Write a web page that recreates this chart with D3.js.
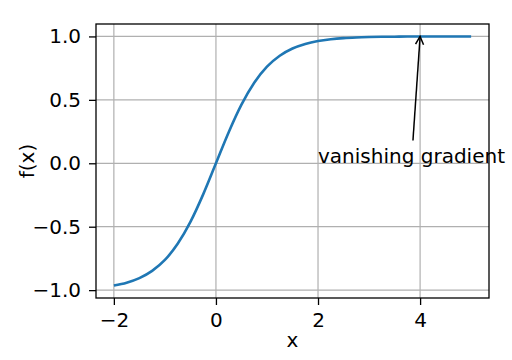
<!DOCTYPE html>
<html>
<head>
<meta charset="utf-8">
<script src="https://cdn.jsdelivr.net/npm/d3@7"></script>
<style>
  body { margin: 0; background: #fff; }
  svg { display: block; }
  svg text { font-family: "DejaVu Sans", sans-serif; fill: #000; }
  .grid line { stroke: #b0b0b0; stroke-width: 1.2; }
  .tick text { font-size: 20px; }
</style>
</head>
<body>
<div id="chart"></div>
<script>
// values
const xs = [-2, -1.75, -1.5, -1.25, -1, -0.75, -0.5, -0.25, 0, 0.25, 0.5, 0.75, 1, 1.25, 1.5, 1.75, 2,
  2.25, 2.5, 2.75, 3, 3.25, 3.5, 3.75, 4, 4.25, 4.5, 4.75, 5];
const ys = [-0.964, -0.941, -0.905, -0.848, -0.762, -0.635, -0.462, -0.245, 0, 0.245, 0.462, 0.635, 0.762,
  0.848, 0.905, 0.941, 0.964, 0.978, 0.987, 0.992, 0.995, 0.997, 0.998, 0.999, 0.999, 1.0, 1.0, 1.0, 1.0];
const xTicks = [-2, 0, 2, 4];
const yTicks = [-1.0, -0.5, 0.0, 0.5, 1.0];
const annotation = { text: "vanishing gradient", at: [4, 1.0], textAt: [2, 0.0], tail: [3.86, 0.18] };

const width = 512, height = 360;
const margin = { top: 24, right: 23, bottom: 62, left: 96 };

const svg = d3.select("#chart").append("svg").attr("width", width).attr("height", height);

const x = d3.scaleLinear().domain([-2.35, 5.35]).range([margin.left, width - margin.right]);
const y = d3.scaleLinear().domain([-1.062, 1.098]).range([height - margin.bottom, margin.top]);

// grid
const grid = svg.append("g").attr("class", "grid");
grid.selectAll(".gx").data(xTicks).join("line")
  .attr("x1", d => x(d)).attr("x2", d => x(d))
  .attr("y1", margin.top).attr("y2", height - margin.bottom);
grid.selectAll(".gy").data(yTicks).join("line")
  .attr("y1", d => y(d)).attr("y2", d => y(d))
  .attr("x1", margin.left).attr("x2", width - margin.right);

// curve
const pts = xs.map((d, i) => [d, ys[i]]);
svg.append("path")
  .datum(pts)
  .attr("fill", "none")
  .attr("stroke", "#1f77b4")
  .attr("stroke-width", 2.6)
  .attr("d", d3.line().x(d => x(d[0])).y(d => y(d[1])).curve(d3.curveMonotoneX));

// axes
const xAxis = svg.append("g")
  .attr("transform", `translate(0,${height - margin.bottom})`)
  .call(d3.axisBottom(x).tickValues(xTicks).tickFormat(d3.format("d")).tickSize(7).tickPadding(8));
const yAxis = svg.append("g")
  .attr("transform", `translate(${margin.left},0)`)
  .call(d3.axisLeft(y).tickValues(yTicks).tickFormat(d3.format(".1f")).tickSize(7).tickPadding(8));
[xAxis, yAxis].forEach(a => {
  a.attr("font-family", null).attr("font-size", null);
  a.select(".domain").remove();
  a.selectAll(".tick line").attr("stroke", "#000").attr("stroke-width", 1.3);
});

// frame
svg.append("rect")
  .attr("x", margin.left).attr("y", margin.top)
  .attr("width", width - margin.left - margin.right)
  .attr("height", height - margin.top - margin.bottom)
  .attr("fill", "none").attr("stroke", "#000").attr("stroke-width", 1.3);

// labels
svg.append("text")
  .attr("x", (margin.left + width - margin.right) / 2).attr("y", 347)
  .attr("text-anchor", "middle").attr("font-size", 20).text("x");
svg.append("text")
  .attr("transform", `translate(34,${(margin.top + height - margin.bottom) / 2}) rotate(-90)`)
  .attr("text-anchor", "middle").attr("font-size", 20).text("f(x)");

// annotation
svg.append("defs").append("marker")
  .attr("id", "head").attr("viewBox", "0 0 10 10")
  .attr("refX", 9).attr("refY", 5)
  .attr("markerWidth", 10).attr("markerHeight", 10)
  .attr("markerUnits", "userSpaceOnUse")
  .attr("orient", "auto")
  .append("path").attr("d", "M1,1 L9,5 L1,9")
  .attr("fill", "none").attr("stroke", "#000").attr("stroke-width", 1.5);
svg.append("line")
  .attr("x1", x(annotation.tail[0])).attr("y1", y(annotation.tail[1]))
  .attr("x2", x(annotation.at[0])).attr("y2", y(annotation.at[1]))
  .attr("stroke", "#000").attr("stroke-width", 1.5)
  .attr("marker-end", "url(#head)");
svg.append("text")
  .attr("x", x(annotation.textAt[0])).attr("y", y(annotation.textAt[1]))
  .attr("font-size", 20).text(annotation.text);
</script>
</body>
</html>
